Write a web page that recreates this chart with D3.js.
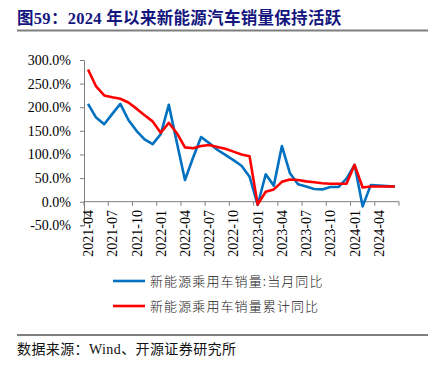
<!DOCTYPE html>
<html>
<head>
<meta charset="utf-8">
<script src="https://cdn.jsdelivr.net/npm/d3@7"></script>
<style>
  body { margin: 0; background: #fff; }
  svg { display: block; }
</style>
</head>
<body>
<svg id="canvas"></svg>
<script>
"use strict";

// months 2021-04 .. 2024-06
const months = [
  "2021-04","2021-05","2021-06","2021-07","2021-08","2021-09","2021-10","2021-11","2021-12",
  "2022-01","2022-02","2022-03","2022-04","2022-05","2022-06","2022-07","2022-08","2022-09",
  "2022-10","2022-11","2022-12","2023-01","2023-02","2023-03","2023-04","2023-05","2023-06",
  "2023-07","2023-08","2023-09","2023-10","2023-11","2023-12","2024-01","2024-02","2024-03",
  "2024-04","2024-05","2024-06"
];
const monthlyYoy = [
  207, 178, 164, 186, 207, 173, 150, 132, 122,
  143, 205, 125, 46, 93, 137, 124, 110, 99,
  88, 76, 53, -7, 58, 34, 118, 60, 37,
  32, 27, 26, 31, 31, 49, 78, -10, 35,
  34, 33, 32
];
const cumulativeYoy = [
  280, 244, 225, 221, 218, 210, 197, 183, 170,
  146, 167, 145, 115, 113, 118, 120, 116, 112,
  106, 100, 96, -6, 21, 26, 42, 47, 46,
  43, 41, 39, 38, 38, 38, 78, 30, 32,
  32, 32, 32
];
const yTicks = [-50, 0, 50, 100, 150, 200, 250, 300];
const seriesNames = ["新能源乘用车销量:当月同比", "新能源乘用车销量累计同比"];
const seriesColors = ["#0070C0", "#FF0000"];

const width = 437;
const height = 372;
const serif = "'Liberation Serif', 'Times New Roman', serif";
const cjk = "'Noto Sans CJK SC', 'Liberation Serif', serif";

const canvas = d3.select('#canvas')
  .attr('width', width)
  .attr('height', height);

// title
canvas.append('text')
  .attr('x', 17).attr('y', 24)
  .attr('font-family', "'Liberation Serif', 'Noto Sans CJK SC', serif")
  .attr('font-weight', 'bold')
  .attr('font-size', 16.5)
  .attr('letter-spacing', 0.3)
  .attr('fill', '#14167e')
  .text('图59：2024 年以来新能源汽车销量保持活跃');
canvas.append('line')
  .attr('x1', 17).attr('x2', 428)
  .attr('y1', 30.5).attr('y2', 30.5)
  .attr('stroke', '#7f7f7f').attr('stroke-width', 2);

const xScale = d3.scaleBand()
  .domain(months)
  .range([84, 399])
  .padding(0);

const yScale = d3.scaleLinear()
  .domain([-50, 300])
  .range([225.3, 60]);

const axisColor = '#7f7f7f';

// y axis
const yAxis = d3.axisLeft(yScale)
  .tickValues(yTicks)
  .tickSize(4)
  .tickPadding(9)
  .tickFormat(d => d.toFixed(1) + '%');
const yg = canvas.append('g')
  .attr('transform', 'translate(84,0)')
  .call(yAxis);
yg.select('.domain').attr('stroke', axisColor);
yg.selectAll('.tick line').attr('stroke', axisColor);
yg.selectAll('.tick text')
  .attr('font-family', serif)
  .attr('font-size', 14)
  .attr('fill', '#000');

// x axis at zero
const y0 = yScale(0);
const boundaries = months.filter((m, i) => i % 3 === 0).map(m => xScale(m));
boundaries.push(xScale.range()[1]);
canvas.append('line')
  .attr('x1', 84).attr('x2', 399)
  .attr('y1', y0).attr('y2', y0)
  .attr('stroke', axisColor);
canvas.selectAll('.xtick')
  .data(boundaries)
  .enter()
  .append('line')
  .attr('class', 'xtick')
  .attr('x1', d => d).attr('x2', d => d)
  .attr('y1', y0).attr('y2', y0 + 4)
  .attr('stroke', axisColor);

canvas.selectAll('.xlabel')
  .data(months.filter((m, i) => i % 3 === 0))
  .enter()
  .append('text')
  .attr('class', 'xlabel')
  .attr('transform', d => 'translate(' + (xScale(d) + xScale.bandwidth() / 2 + 5) + ',210) rotate(-90)')
  .attr('text-anchor', 'end')
  .attr('font-family', serif)
  .attr('font-size', 14)
  .text(d => d);

// lines
const cx = (d, i) => xScale(months[i]) + xScale.bandwidth() / 2;
const line = d3.line()
  .x((d, i) => cx(d, i))
  .y(d => yScale(d));

[monthlyYoy, cumulativeYoy].forEach((series, k) => {
  canvas.append('path')
    .datum(series)
    .attr('d', line)
    .attr('fill', 'none')
    .attr('stroke', seriesColors[k])
    .attr('stroke-width', 2.6)
    .attr('stroke-linejoin', 'round');
});

// legend
seriesNames.forEach((name, k) => {
  const ly = 281 + k * 25;
  canvas.append('line')
    .attr('x1', 113).attr('x2', 145)
    .attr('y1', ly).attr('y2', ly)
    .attr('stroke', seriesColors[k])
    .attr('stroke-width', 2.6);
  canvas.append('text')
    .attr('x', 150).attr('y', ly + 4.5)
    .attr('font-family', cjk)
    .attr('font-size', 13)
    .attr('font-weight', 300)
    .attr('letter-spacing', 1.1)
    .attr('fill', '#222')
    .text(name);
});

// source
canvas.append('line')
  .attr('x1', 17).attr('x2', 428)
  .attr('y1', 335).attr('y2', 335)
  .attr('stroke', '#000').attr('stroke-width', 1);
canvas.append('text')
  .attr('x', 17).attr('y', 354)
  .attr('font-family', "'Liberation Serif', 'Noto Sans CJK SC', serif")
  .attr('font-size', 14)
  .attr('letter-spacing', 0.4)
  .attr('fill', '#111')
  .text('数据来源：Wind、开源证券研究所');
</script>
</body>
</html>
